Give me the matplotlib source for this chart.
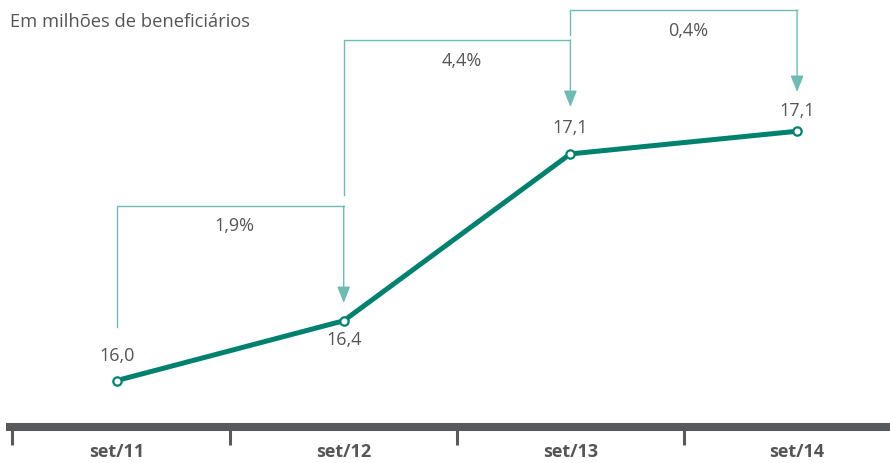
import matplotlib
matplotlib.use("Agg")
import matplotlib.pyplot as plt

# Data
categories = ["set/11", "set/12", "set/13", "set/14"]
values = [16.0, 16.29, 17.1, 17.21]          # plotted positions (millions)
value_labels = ["16,0", "16,4", "17,1", "17,1"]
growth_labels = ["1,9%", "4,4%", "0,4%"]
title = "Em milhões de beneficiários"

# Styling
LINE_COLOR = "#00816f"
BRACKET_COLOR = "#6fbab3"
TEXT_COLOR = "#555555"
AXIS_COLOR = "#58595b"
FONT = ["Open Sans", "DejaVu Sans"]

W, H, DPI = 890, 463, 100
X0, DX = 117, 226.7           # pixel x of first point, spacing
Y_REF, PX_PER_UNIT = 380.5, 206.0   # pixel y of 16.0, pixels per million


def py(v):
    """data value -> pixel row (for layout constants)"""
    return Y_REF - (v - 16.0) * PX_PER_UNIT


def val(p):
    """pixel row -> data value"""
    return 16.0 + (Y_REF - p) / PX_PER_UNIT


fig = plt.figure(figsize=(W / DPI, H / DPI), dpi=DPI)
ax = fig.add_axes([0, 0, 1, 1])
ax.set_xlim(-X0 / DX, (W - X0) / DX)
ax.set_ylim(val(H), val(0))
ax.axis("off")

xs = list(range(len(categories)))

# Main line
ax.plot(xs, values, color=LINE_COLOR, lw=3.6, solid_capstyle="round",
        marker="o", ms=6, mfc="white", mec=LINE_COLOR, mew=1.6, zorder=5)

# Value labels (pixel offsets: above / below)
label_offsets = [-24, 19, -26, -20]
for x, v, lab, off in zip(xs, values, value_labels, label_offsets):
    ax.text(x, val(py(v) + off), lab, ha="center", va="center",
            fontsize=13, color=TEXT_COLOR, family=FONT)

# Growth brackets: (leg bottom px, top px, arrow tip px, label px)
brackets = [(327, 206, 303, 226), (195, 40, 107, 61), (35, 10, 92, 31)]
for i, (bot, top, tip, lab_y) in enumerate(brackets):
    x1, x2 = xs[i], xs[i + 1]
    ax.plot([x1, x1, x2], [val(bot), val(top), val(top)],
            color=BRACKET_COLOR, lw=1.0, solid_joinstyle="miter", zorder=3)
    ax.annotate("", xy=(x2, val(tip)), xytext=(x2, val(top)),
                arrowprops=dict(arrowstyle="-|>,head_length=1.0,head_width=0.4",
                                color=BRACKET_COLOR, lw=1.0, mutation_scale=10,
                                shrinkA=0, shrinkB=0), zorder=3)
    ax.text((x1 + x2) / 2 + 0.02, val(lab_y), growth_labels[i], ha="center",
            va="center", fontsize=13, color=TEXT_COLOR, family=FONT)

# Bottom axis bar and ticks
bar_y = val(426.5)
ax.plot([(6 - X0) / DX, (W - X0) / DX], [bar_y, bar_y], color=AXIS_COLOR,
        lw=5.8, solid_capstyle="butt", zorder=2)
for k in range(len(categories)):
    tx = (k - 0.5) if k > 0 else (12 - X0) / DX
    ax.plot([tx, tx], [val(428), val(445)], color=AXIS_COLOR, lw=2.2,
            solid_capstyle="butt", zorder=2)
for x, c in zip(xs, categories):
    ax.text(x, val(452), c, ha="center", va="center", fontsize=13,
            fontweight="bold", color=TEXT_COLOR, family=FONT)

# Title
fig.text(10 / W, 1 - 22 / H, title, ha="left", va="center", fontsize=13.2,
         color=TEXT_COLOR, family=FONT)

fig.savefig("out.png", dpi=DPI)
